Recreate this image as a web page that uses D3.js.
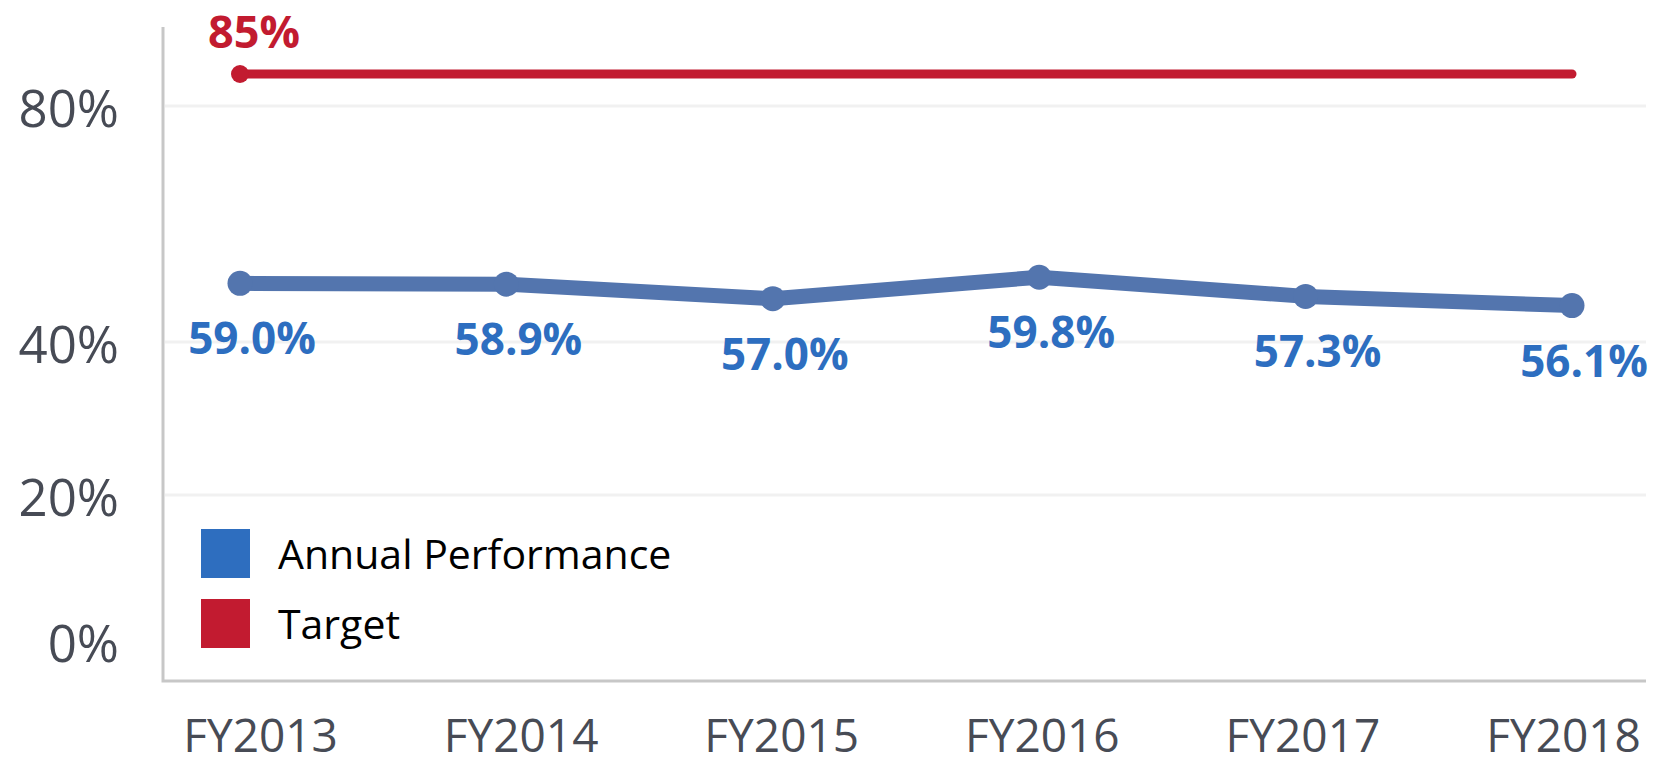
<!DOCTYPE html>
<html>
<head>
<meta charset="utf-8">
<script src="https://cdn.jsdelivr.net/npm/d3@7"></script>
<style>
  body { margin: 0; background: #fff; }
  text { font-family: "Open Sans", "Noto Sans", sans-serif; }
</style>
</head>
<body>
<div id="chart"></div>
<script>
/* Annual performance vs target, FY2013-FY2018 */

const years = ["FY2013", "FY2014", "FY2015", "FY2016", "FY2017", "FY2018"];
const performance = [59.0, 58.9, 57.0, 59.8, 57.3, 56.1];
const target = [85, 85, 85, 85, 85, 85];
const yTicks = [0, 20, 40, 80];
const gridTicks = [20, 40, 80];
const seriesNames = ["Annual Performance", "Target"];

const width = 1665,
      height = 765;

const blueLine = "#5375ae",
      blueText = "#2d6ec0",
      red = "#c21b30",
      grey = "#474b55";

let svg = d3.select("#chart")
    .append("svg")
    .attr("width", width)
    .attr("height", height)
    .attr("viewBox", [0, 0, width, height]);

// points sit a little inside the frame, labels use their own spacing
let x = d3.scalePoint()
    .domain(years)
    .range([240, 1572]);

let xLabel = d3.scalePoint()
    .domain(years)
    .range([260, 1563]);

// the original axis is broken, so the scale is piecewise
let y = d3.scaleLinear()
    .domain([0, 20, 40, 55, 60, 80, 85])
    .range([641, 495, 342, 314, 275.7, 106, 74]);

// gridlines
svg.append("g")
    .selectAll("line")
    .data(gridTicks)
    .join("line")
    .attr("x1", 165)
    .attr("x2", 1646)
    .attr("y1", d => y(d))
    .attr("y2", d => y(d))
    .attr("stroke", "#f1f1f1")
    .attr("stroke-width", 3);

// frame: left and bottom lines
svg.append("path")
    .attr("d", "M163,27V681H1646")
    .attr("fill", "none")
    .attr("stroke", "#c7c7c7")
    .attr("stroke-width", 3);

// y axis labels
let yAxis = svg.append("g")
    .attr("transform", "translate(163,0)")
    .call(d3.axisLeft(y).tickValues(yTicks).tickFormat(d => d + "%").tickSize(0).tickPadding(44));
yAxis.select(".domain").remove();
yAxis.selectAll("text")
    .attr("dy", "0.41em")
    .attr("font-size", 51)
    .attr("font-family", "Open Sans")
    .attr("fill", grey);

// x axis labels (kept just inside the bottom edge)
let xAxis = svg.append("g")
    .attr("transform", "translate(0,681)")
    .call(d3.axisBottom(xLabel).tickSize(0).tickPadding(38));
xAxis.select(".domain").remove();
xAxis.selectAll("text")
    .attr("dy", "0.71em")
    .attr("font-size", 46)
    .attr("font-family", "Open Sans")
    .attr("fill", grey);

// target line
let targetData = years.map((yr, i) => ({ year: yr, value: target[i] }));

svg.append("path")
    .datum(targetData)
    .attr("fill", "none")
    .attr("stroke", red)
    .attr("stroke-width", 9)
    .attr("stroke-linecap", "round")
    .attr("d", d3.line().x(d => x(d.year)).y(d => y(d.value)));

svg.append("circle")
    .attr("cx", x(targetData[0].year))
    .attr("cy", y(targetData[0].value))
    .attr("r", 9)
    .attr("fill", red);

svg.append("text")
    .text(targetData[0].value + "%")
    .attr("x", x(targetData[0].year) + 14)
    .attr("y", y(targetData[0].value) - 26)
    .attr("text-anchor", "middle")
    .attr("font-size", 45)
    .attr("font-weight", "bold")
    .attr("fill", red);

// annual performance line
let perfData = years.map((yr, i) => ({ year: yr, value: performance[i] }));

svg.append("path")
    .datum(perfData)
    .attr("fill", "none")
    .attr("stroke", blueLine)
    .attr("stroke-width", 15)
    .attr("stroke-linejoin", "round")
    .attr("d", d3.line().x(d => x(d.year)).y(d => y(d.value)));

let pt = svg.selectAll(".pt")
    .data(perfData)
    .join("g")
    .attr("class", "pt");

pt.append("circle")
    .attr("cx", d => x(d.year))
    .attr("cy", d => y(d.value))
    .attr("r", 12.5)
    .attr("fill", blueLine);

pt.append("text")
    .text(d => d.value.toFixed(1) + "%")
    .attr("x", d => x(d.year) + 12)
    .attr("y", d => y(d.value) + 71)
    .attr("text-anchor", "middle")
    .attr("font-size", 44)
    .attr("font-weight", "bold")
    .attr("fill", blueText);

// legend
let legend = svg.selectAll(".legend")
    .data(seriesNames)
    .join("g")
    .attr("class", "legend")
    .attr("transform", (d, i) => `translate(201,${529 + i * 70})`);

legend.append("rect")
    .attr("width", 49)
    .attr("height", 49)
    .attr("fill", (d, i) => i === 0 ? "#2e6ebf" : red);

legend.append("text")
    .text(d => d)
    .attr("x", 77)
    .attr("y", 40)
    .attr("font-size", 41)
    .attr("fill", "#000");
</script>
</body>
</html>
